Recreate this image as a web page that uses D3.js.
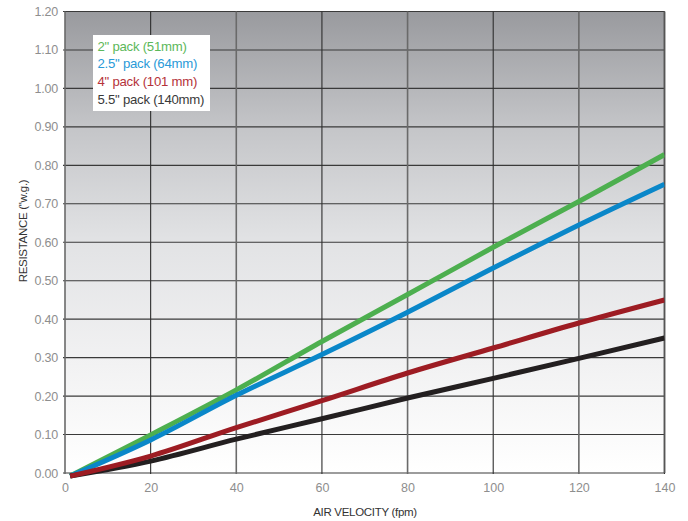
<!DOCTYPE html>
<html>
<head>
<meta charset="utf-8">
<script src="https://cdn.jsdelivr.net/npm/d3@7/dist/d3.min.js"></script>
<style>
  html, body { margin: 0; padding: 0; background: #ffffff; }
  svg { display: block; font-family: "Liberation Sans", Arial, sans-serif; }
</style>
</head>
<body>
<svg id="chart" width="688" height="521"></svg>
<script>
// ---- data ----
const velocities = [1.2, 20, 40, 60, 80, 100, 120, 140];
const pack2 = [-0.008, 0.099, 0.216, 0.342, 0.464, 0.587, 0.706, 0.828];
const pack25 = [-0.008, 0.086, 0.202, 0.308, 0.418, 0.533, 0.645, 0.751];
const pack4 = [-0.008, 0.044, 0.118, 0.188, 0.260, 0.325, 0.390, 0.450];
const pack55 = [-0.008, 0.031, 0.088, 0.141, 0.195, 0.246, 0.298, 0.351];
const seriesNames = ['2" pack (51mm)', '2.5" pack (64mm)', '4" pack (101 mm)', '5.5" pack (140mm)'];
const xTicks = [0, 20, 40, 60, 80, 100, 120, 140];
const yTicks = [0, 0.1, 0.2, 0.3, 0.4, 0.5, 0.6, 0.7, 0.8, 0.9, 1.0, 1.1, 1.2];
const xTitle = "AIR VELOCITY (fpm)";
const yTitle = "RESISTANCE (\"w.g.)";

const lineColors = ["#4daf4f", "#0a87c9", "#9d1c23", "#231f20"];
const textColors = ["#5cb85a", "#2a9ad8", "#b5323a", "#3a3a3a"];

const svg = d3.select("#chart");
const L = 65, R = 664.5, T = 11.5, B = 473;
const x = d3.scaleLinear().domain([0, 140]).range([L, R]);
const y = d3.scaleLinear().domain([0, 1.2]).range([B, T]);

// background gradient
const defs = svg.append("defs");
const grad = defs.append("linearGradient").attr("id", "bg").attr("x1", 0).attr("y1", 0).attr("x2", 0).attr("y2", 1);
[[0, "#999a9e"], [0.25, "#c4c5c8"], [0.5, "#e2e3e5"], [0.75, "#f1f1f2"], [1, "#ffffff"]]
  .forEach(s => grad.append("stop").attr("offset", s[0]).attr("stop-color", s[1]));
defs.append("clipPath").attr("id", "clip").append("rect")
  .attr("x", L).attr("y", T - 3).attr("width", R - L).attr("height", B - T + 10);

svg.append("rect").attr("x", L).attr("y", T).attr("width", R - L).attr("height", B - T).attr("fill", "url(#bg)");

// grid
const g = svg.append("g");
g.selectAll(".hg").data(yTicks).join("line")
  .attr("x1", L - 2).attr("x2", R).attr("y1", d => y(d)).attr("y2", d => y(d))
  .attr("stroke", "#3a3a3a").attr("stroke-width", 1.1);
g.selectAll(".vg").data(xTicks).join("line")
  .attr("x1", d => x(d)).attr("x2", d => x(d)).attr("y1", T).attr("y2", B + 1)
  .attr("stroke", (d, i) => (i % 2 ? "#2e2e2e" : "#6a6a6a")).attr("stroke-width", (d, i) => (i % 2 ? 1.1 : 1.6));
// right border
g.append("line").attr("x1", R).attr("x2", R).attr("y1", T).attr("y2", B)
  .attr("stroke", "#555").attr("stroke-width", 1.8);

// axes labels via d3 axes
const xAxis = svg.append("g").attr("transform", `translate(0,${B})`)
  .call(d3.axisBottom(x).tickValues(xTicks).tickSize(0).tickPadding(10).tickFormat(d3.format("d")));
xAxis.select(".domain").remove();
xAxis.selectAll("text").attr("fill", "#8e8e8e").attr("font-size", 12.5);

const yAxis = svg.append("g").attr("transform", `translate(${L},0)`)
  .call(d3.axisLeft(y).tickValues(yTicks).tickSize(0).tickPadding(7).tickFormat(d3.format(".2f")));
yAxis.select(".domain").remove();
yAxis.selectAll("text").attr("fill", "#8e8e8e").attr("font-size", 12.5).attr("letter-spacing", -0.2);

// lines
const allSeries = [pack2, pack25, pack4, pack55];
const lineGen = d3.line().x((d, i) => x(velocities[i])).y(d => y(d)).curve(d3.curveMonotoneX);
const lg = svg.append("g").attr("clip-path", "url(#clip)");
[0, 1, 3, 2].forEach(k => {
  lg.append("path").datum(allSeries[k]).attr("d", lineGen)
    .attr("fill", "none").attr("stroke", lineColors[k]).attr("stroke-width", 5);
});

// legend
const leg = svg.append("g");
leg.append("rect").attr("x", 93).attr("y", 35).attr("width", 117).attr("height", 76).attr("fill", "#ffffff");
seriesNames.forEach((n, i) => {
  leg.append("text").attr("x", 97.5).attr("y", 50.5 + i * 17.7).text(n)
    .attr("fill", textColors[i]).attr("font-size", 13.2).attr("letter-spacing", -0.25);
});

// titles
svg.append("text").attr("x", 365).attr("y", 516).attr("text-anchor", "middle")
  .attr("fill", "#333").attr("font-size", 11.5).attr("letter-spacing", -0.3).text(xTitle);
svg.append("text").attr("transform", "translate(27,231) rotate(-90)").attr("text-anchor", "middle")
  .attr("fill", "#333").attr("font-size", 11.5).attr("letter-spacing", -0.3).text(yTitle);
</script>
</body>
</html>
